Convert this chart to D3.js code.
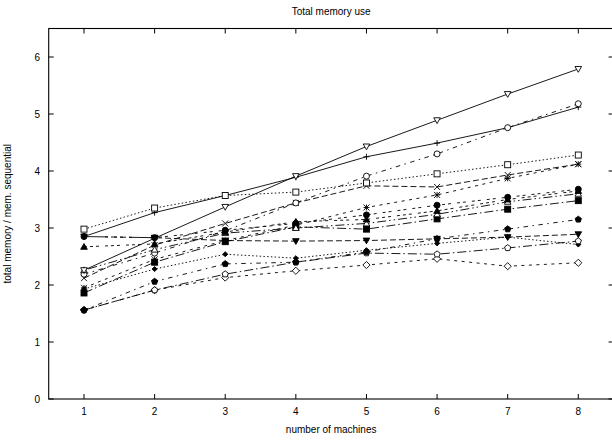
<!DOCTYPE html>
<meta charset="utf-8">
<html>
<head>
<title>Total memory use</title>
<style>
  body { margin: 0; background: #fff; }
  text { font-family: "Liberation Sans", Arial, sans-serif; font-size: 10px; fill: #000; }
</style>
</head>
<body>
<div id="chart"></div>
<script src="https://d3js.org/d3.v7.min.js"></script>
<script>

// machines on the x axis
var machines = [1, 2, 3, 4, 5, 6, 7, 8];
var yTicks = [0, 1, 2, 3, 4, 5, 6];

// one array per curve (gnuplot point types 1..15)
var plusSeries     = [2.85, 3.27, 3.57, 3.89, 4.25, 4.49, 4.76, 5.12];
var crossSeries    = [2.12, 2.70, 3.08, 3.44, 3.74, 3.72, 3.93, 4.12];
var starSeries     = [1.95, 2.45, 2.78, 3.05, 3.36, 3.58, 3.87, 4.12];
var boxSeries      = [2.98, 3.35, 3.57, 3.63, 3.79, 3.95, 4.11, 4.28];
var boxFSeries     = [1.86, 2.40, 2.76, 3.02, 2.98, 3.16, 3.33, 3.48];
var circleSeries   = [2.19, 2.56, 2.95, 3.44, 3.91, 4.30, 4.76, 5.18];
var circleFSeries  = [2.85, 2.83, 2.96, 3.08, 3.23, 3.40, 3.54, 3.68];
var triUSeries     = [2.26, 2.62, 2.91, 3.00, 3.08, 3.24, 3.46, 3.60];
var triUFSeries    = [2.67, 2.72, 2.93, 3.11, 3.15, 3.30, 3.50, 3.65];
var triDSeries     = [2.26, 2.82, 3.37, 3.91, 4.43, 4.89, 5.35, 5.79];
var triDFSeries    = [2.85, 2.83, 2.78, 2.77, 2.78, 2.81, 2.84, 2.89];
var diaSeries      = [1.56, 1.91, 2.13, 2.25, 2.35, 2.46, 2.33, 2.39];
var diaFSeries     = [1.93, 2.28, 2.54, 2.47, 2.61, 2.73, 2.84, 2.71];
var pentSeries     = [1.56, 1.91, 2.19, 2.40, 2.56, 2.54, 2.65, 2.77];
var pentFSeries    = [1.56, 2.06, 2.37, 2.40, 2.58, 2.81, 2.98, 3.15];

var series = [plusSeries, crossSeries, starSeries, boxSeries, boxFSeries,
  circleSeries, circleFSeries, triUSeries, triUFSeries, triDSeries,
  triDFSeries, diaSeries, diaFSeries, pentSeries, pentFSeries];

// gnuplot postscript dash patterns LT0..LT8, dl ~ 1.5px
var dl = 1.5;
var dashes = [[], [4, 2], [2, 3], [1, 1.5], [6, 2, 1, 2], [3, 3, 1, 3],
  [2, 2, 2, 4], [1, 2, 6, 2, 1, 2], [2, 2, 2, 2, 2, 4]];

var W = 612, H = 441;
var pLeft = 48.7, pRight = 613.6, pTop = 28.5, pBottom = 399;

var svg = d3.select("#chart").append("svg")
  .attr("width", W).attr("height", H);

var x = d3.scaleLinear().domain([0.5, 8.5]).range([pLeft, pRight]);
var y = d3.scaleLinear().domain([0, 6.5]).range([pBottom, pTop]);

// frame
svg.append("rect")
  .attr("x", pLeft).attr("y", pTop)
  .attr("width", pRight - pLeft).attr("height", pBottom - pTop)
  .attr("fill", "none").attr("stroke", "#000").attr("stroke-width", 1.1);

// inward ticks, all four sides
var tl = 5;
svg.append("g").selectAll("line").data(machines).enter().append("line")
  .attr("x1", d => x(d)).attr("x2", d => x(d))
  .attr("y1", pBottom).attr("y2", pBottom - tl)
  .attr("stroke", "#000");
svg.append("g").selectAll("line").data(machines).enter().append("line")
  .attr("x1", d => x(d)).attr("x2", d => x(d))
  .attr("y1", pTop).attr("y2", pTop + tl)
  .attr("stroke", "#000");
svg.append("g").selectAll("line").data(yTicks).enter().append("line")
  .attr("x1", pLeft).attr("x2", pLeft + tl)
  .attr("y1", d => y(d)).attr("y2", d => y(d))
  .attr("stroke", "#000");
svg.append("g").selectAll("line").data(yTicks).enter().append("line")
  .attr("x1", pRight).attr("x2", pRight - tl)
  .attr("y1", d => y(d)).attr("y2", d => y(d))
  .attr("stroke", "#000");

// tick labels
svg.append("g").selectAll("text").data(machines).enter().append("text")
  .attr("x", d => x(d)).attr("y", 415)
  .attr("text-anchor", "middle").text(d => d);
svg.append("g").selectAll("text").data(yTicks).enter().append("text")
  .attr("x", 40).attr("y", d => y(d) + 4)
  .attr("text-anchor", "end").text(d => d);

// titles
svg.append("text").attr("x", (pLeft + pRight) / 2).attr("y", 15)
  .attr("text-anchor", "middle").text("Total memory use");
svg.append("text").attr("x", (pLeft + pRight) / 2).attr("y", 433)
  .attr("text-anchor", "middle").text("number of machines");
svg.append("text")
  .attr("transform", "translate(11," + ((pTop + pBottom) / 2) + ") rotate(-90)")
  .attr("text-anchor", "middle").text("total memory / mem. sequential");

var line = d3.line()
  .x((d, i) => x(machines[i]))
  .y(d => y(d));

// point glyphs
var s = 3;
function triPath(up) {
  var h = s * 1.1, k = up ? 1 : -1;
  return "M0," + (-k * h) + "L" + (-h) + "," + (k * h * 0.75) + "L" + h + "," + (k * h * 0.75) + "Z";
}
function pentPath() {
  var p = [];
  for (var i = 0; i < 5; i++) {
    var a = -Math.PI / 2 + i * 2 * Math.PI / 5;
    p.push((s * 1.1 * Math.cos(a)).toFixed(2) + "," + (s * 1.1 * Math.sin(a)).toFixed(2));
  }
  return "M" + p.join("L") + "Z";
}
function drawPoint(g, pt) {
  if (pt === 1) {
    g.append("path").attr("d", "M" + -s + ",0H" + s + "M0," + -s + "V" + s).attr("stroke", "#000");
  } else if (pt === 2) {
    g.append("path").attr("d", "M" + -s + "," + -s + "L" + s + "," + s + "M" + -s + "," + s + "L" + s + "," + -s).attr("stroke", "#000");
  } else if (pt === 3) {
    g.append("path").attr("d", "M" + -s + ",0H" + s + "M0," + -s + "V" + s + "M" + -s + "," + -s + "L" + s + "," + s + "M" + -s + "," + s + "L" + s + "," + -s).attr("stroke", "#000");
  } else if (pt === 4 || pt === 5) {
    g.append("rect").attr("x", -s).attr("y", -s).attr("width", 2 * s).attr("height", 2 * s)
      .attr("fill", pt === 5 ? "#000" : "#fff").attr("stroke", "#000");
  } else if (pt === 6 || pt === 7) {
    g.append("circle").attr("r", s).attr("fill", pt === 7 ? "#000" : "#fff").attr("stroke", "#000");
  } else if (pt === 8 || pt === 9) {
    g.append("path").attr("d", triPath(true)).attr("fill", pt === 9 ? "#000" : "#fff").attr("stroke", "#000");
  } else if (pt === 10 || pt === 11) {
    g.append("path").attr("d", triPath(false)).attr("fill", pt === 11 ? "#000" : "#fff").attr("stroke", "#000");
  } else if (pt === 12 || pt === 13) {
    var r = pt === 13 ? s * 0.85 : s * 1.2;
    g.append("path").attr("d", "M0," + -r + "L" + r + ",0L0," + r + "L" + -r + ",0Z")
      .attr("fill", pt === 13 ? "#000" : "#fff").attr("stroke", "#000");
  } else {
    g.append("path").attr("d", pentPath()).attr("fill", pt === 15 ? "#000" : "#fff").attr("stroke", "#000");
  }
}

series.forEach(function(vals, k) {
  var lt = k % 9;
  svg.append("path")
    .datum(vals)
    .attr("fill", "none")
    .attr("stroke", "#000")
    .attr("stroke-width", 0.9)
    .attr("stroke-dasharray", dashes[lt].map(v => v * dl).join(","))
    .attr("d", line);
});

series.forEach(function(vals, k) {
  vals.forEach(function(v, i) {
    var g = svg.append("g")
      .attr("transform", "translate(" + x(machines[i]) + "," + y(v) + ")")
      .attr("stroke-width", 0.9);
    drawPoint(g, k + 1);
  });
});

</script>
</body>
</html>
